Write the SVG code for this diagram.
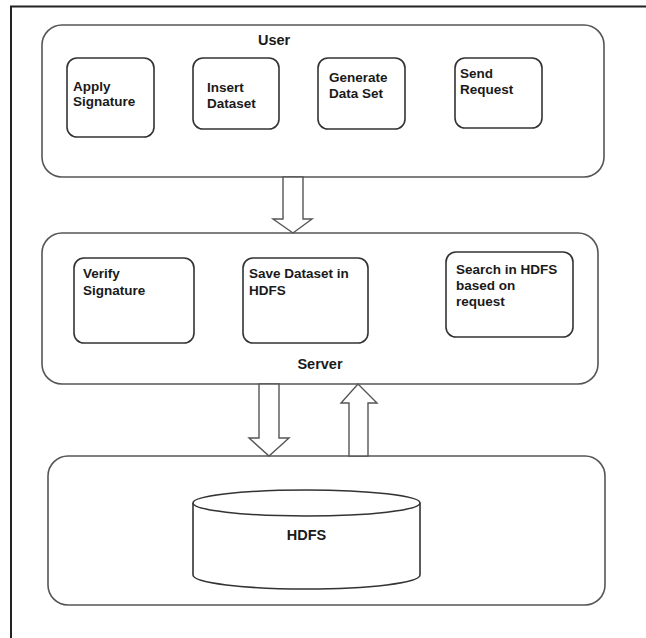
<svg xmlns="http://www.w3.org/2000/svg" width="646" height="638" viewBox="0 0 646 638">
<style>
.frame{stroke:#222;stroke-width:2;fill:none}
.cont{fill:#fff;stroke:#555;stroke-width:1.6}
.box{fill:#fff;stroke:#333;stroke-width:1.6}
.arrow{fill:#fff;stroke:#555;stroke-width:1.4;stroke-linejoin:miter}
.t{font-family:"Liberation Sans",Arial,sans-serif;font-weight:bold;font-size:13.5px;fill:#1a1a1a}
.lbl{font-family:"Liberation Sans",Arial,sans-serif;font-weight:bold;font-size:14.5px;fill:#1a1a1a}
</style>
<rect width="646" height="638" fill="#fff"/>
<g id="frame">
<path class="frame" d="M11 638 V6.5 H646"/>
</g>
<g id="user">
<rect class="cont" x="42" y="25" width="562" height="152" rx="20"/>
<text class="lbl" x="258" y="45">User</text>
</g>
<g id="apply-signature">
<rect class="box" x="67" y="58" width="87" height="79" rx="10"/>
<text class="t" x="73" y="91">Apply</text>
<text class="t" x="73" y="106">Signature</text>
</g>
<g id="insert-dataset">
<rect class="box" x="193" y="58" width="86" height="71" rx="10"/>
<text class="t" x="207" y="92">Insert</text>
<text class="t" x="207" y="108">Dataset</text>
</g>
<g id="generate-data-set">
<rect class="box" x="318" y="58" width="87" height="71" rx="10"/>
<text class="t" x="329" y="82">Generate</text>
<text class="t" x="329" y="98">Data Set</text>
</g>
<g id="send-request">
<rect class="box" x="455" y="58" width="87" height="70" rx="10"/>
<text class="t" x="460" y="78">Send</text>
<text class="t" x="460" y="94">Request</text>
</g>
<g id="server">
<rect class="cont" x="42" y="233" width="556" height="151" rx="20"/>
<text class="lbl" x="320" y="369" text-anchor="middle">Server</text>
</g>
<g id="verify-signature">
<rect class="box" x="74" y="258" width="120" height="85" rx="10"/>
<text class="t" x="83" y="278">Verify</text>
<text class="t" x="83" y="295">Signature</text>
</g>
<g id="save-dataset">
<rect class="box" x="243" y="258" width="125" height="85" rx="10"/>
<text class="t" x="249" y="278">Save Dataset in</text>
<text class="t" x="249" y="295">HDFS</text>
</g>
<g id="search-hdfs">
<rect class="box" x="446" y="252" width="127" height="85" rx="10"/>
<text class="t" x="456" y="274">Search in HDFS</text>
<text class="t" x="456" y="290">based on</text>
<text class="t" x="456" y="306">request</text>
</g>
<g id="storage">
<rect class="cont" x="48" y="456" width="557" height="149" rx="20"/>
</g>
<g id="hdfs">
<path class="box" d="M193 503 V575 A113 14 0 0 0 420 575 V503"/>
<ellipse class="box" cx="306.5" cy="503" rx="113.5" ry="13"/>
<text class="lbl" x="306.5" y="540" text-anchor="middle" font-size="15">HDFS</text>
</g>
<g id="connectors">
<polygon class="arrow" points="283,177 303,177 303,219 312,219 293,233 273,219 283,219"/>
<polygon class="arrow" points="259,384 279,384 279,438 289,438 269,456 249,438 259,438"/>
<polygon class="arrow" points="349,456 368,456 368,403 377,403 358,384 341,403 349,403"/>
</g>
</svg>
